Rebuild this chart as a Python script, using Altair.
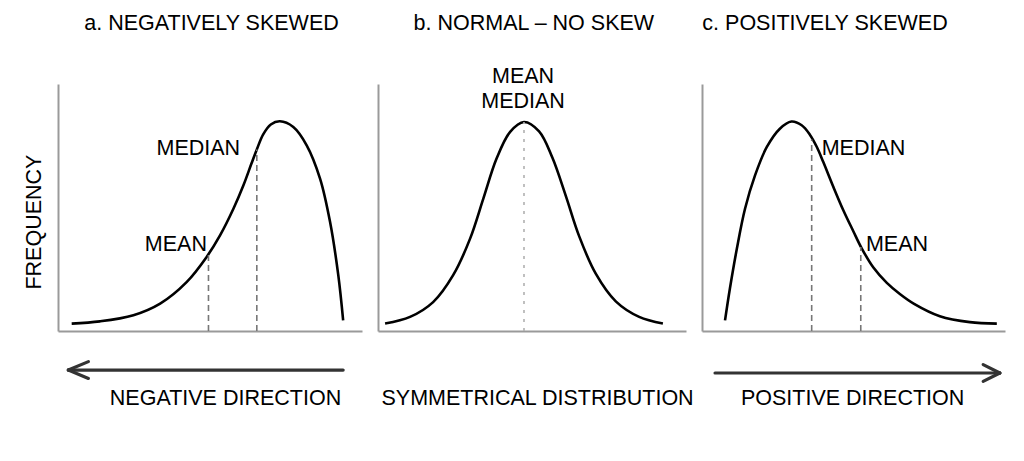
import altair as alt
import pandas as pd

FONT = "Liberation Sans"
FS = 21.5

# ---------- panel a: negatively skewed ----------
neg_x = [4.5, 13.8, 24.8, 33.6, 42.3, 48.9, 53.3, 57.7, 61.0, 63.7, 65.4, 67.5, 70.0, 73.0, 77.4, 81.8, 86.2, 89.5, 92.2, 93.8]
neg_y = [3.0, 3.9, 6.4, 11.1, 19.8, 30.0, 38.7, 49.5, 59.0, 68.0, 73.5, 79.6, 83.6, 84.9, 82.6, 75.2, 61.7, 44.1, 22.6, 4.3]
neg_marks = ["MEAN", "MEDIAN"]
neg_mark_x = [49.5, 65.4]
neg_mark_top = [30.8, 73.5]

# ---------- panel b: normal ----------
norm_x = [2.3, 10.4, 17.9, 24.4, 29.9, 34.2, 38.5, 42.9, 47.4, 52.3, 56.6, 61.0, 65.3, 70.7, 77.2, 84.8, 92.5]
norm_y = [3.0, 5.7, 11.7, 22.6, 37.4, 53.6, 69.8, 80.6, 84.6, 80.8, 70.2, 54.6, 38.4, 23.2, 12.0, 5.7, 3.0]
norm_mark_x = [47.4]
norm_mark_top = [84.6]

# ---------- panel c: positively skewed ----------
pos_x = [7.6, 9.2, 11.5, 14.2, 17.5, 21.4, 25.7, 29.5, 32.9, 35.6, 37.9, 40.0, 43.3, 46.6, 49.9, 52.7, 56.5, 61.0, 65.3, 70.0, 78.5, 88.4, 97.3]
pos_y = [4.3, 17.1, 33.3, 49.5, 63.0, 74.5, 81.9, 84.8, 83.3, 79.5, 74.5, 68.5, 58.5, 49.0, 40.5, 33.5, 25.8, 19.5, 15.0, 11.0, 6.0, 3.6, 3.0]
pos_marks = ["MEDIAN", "MEAN"]
pos_mark_x = [36.2, 52.4]
pos_mark_top = [77.5, 34.0]

titles = ["a. NEGATIVELY SKEWED", "b. NORMAL – NO SKEW", "c. POSITIVELY SKEWED"]
directions = ["NEGATIVE DIRECTION", "SYMMETRICAL DISTRIBUTION", "POSITIVE DIRECTION"]
y_title = "FREQUENCY"

XS = alt.Scale(domain=[0, 100], nice=False, zero=False)
YS = alt.Scale(domain=[0, 100], nice=False, zero=False)
AX = alt.Axis(domain=True, domainColor="#9a9a9a", domainWidth=2, ticks=False,
              labels=False, grid=False, title=None)


def X(f):
    return alt.X(f, type="quantitative", scale=XS, axis=AX)


def Y(f):
    return alt.Y(f, type="quantitative", scale=YS, axis=AX)


def text_layer(df, align="center", angle=0):
    kw = dict(font=FONT, fontSize=FS, color="black", align=align, baseline="middle")
    if angle:
        kw["angle"] = angle
    return alt.Chart(df).mark_text(**kw).encode(x=X("x"), y=Y("y"), text="t:N")


def panel(cx, cy, mx, mtop, dash, dcolor, labels, title, title_x, direction, dir_x,
          arrow, width, extra=None):
    curve = alt.Chart(pd.DataFrame({"x": cx, "y": cy})).mark_line(
        color="black", strokeWidth=2.6, interpolate="catmull-rom"
    ).encode(x=X("x"), y=Y("y"))
    rules = alt.Chart(pd.DataFrame({"x": mx, "y": [0] * len(mx), "y2": mtop})).mark_rule(
        color=dcolor, strokeWidth=1.6, strokeDash=dash
    ).encode(x=X("x"), y=Y("y"), y2="y2:Q")
    layers = [curve, rules]
    if labels is not None:
        layers.append(text_layer(labels[0], align=labels[1]))
    layers.append(text_layer(pd.DataFrame({"x": [title_x], "y": [124.1], "t": [title]})))
    layers.append(text_layer(pd.DataFrame({"x": [dir_x], "y": [-27.7], "t": [direction]})))
    if arrow is not None:
        layers.append(alt.Chart(arrow).mark_rule(color="#333333", strokeWidth=3.2, strokeCap="round")
                      .encode(x=X("x"), x2="x2:Q", y=Y("y"), y2="y2:Q"))
    if extra is not None:
        layers.extend(extra)
    return alt.layer(*layers).properties(width=width, height=247)


# annotations
neg_labels = pd.DataFrame({"x": [49.0, 59.9], "y": [34.8, 73.8], "t": neg_marks})
norm_labels = pd.DataFrame({"x": [47.1, 47.1], "y": [102.8, 92.7], "t": ["MEAN", "MEDIAN"]})
pos_labels = pd.DataFrame({"x": [39.5, 54.1], "y": [73.8, 35.0], "t": pos_marks})

neg_arrow = pd.DataFrame({"x": [3.4, 3.4, 3.4], "x2": [93.8, 10.0, 10.0],
                          "y": [-15.8, -15.8, -15.8], "y2": [-15.8, -12.4, -19.2]})
pos_arrow = pd.DataFrame({"x": [4.3, 98.3, 98.3], "x2": [98.3, 92.8, 92.8],
                          "y": [-17.0, -17.0, -17.0], "y2": [-17.0, -13.6, -20.4]})
freq = text_layer(pd.DataFrame({"x": [-7.6], "y": [44.1], "t": [y_title]}), angle=270)

pa = panel(neg_x, neg_y, neg_mark_x, neg_mark_top, [6, 4], "#777777", (neg_labels, "right"),
           titles[0], 50.5, directions[0], 55.1, neg_arrow, 304, [freq])
pb = panel(norm_x, norm_y, norm_mark_x, norm_mark_top, [3, 6], "#b0b0b0", (norm_labels, "center"),
           titles[1], 50.6, directions[1], 51.8, None, 308)
pc = panel(pos_x, pos_y, pos_mark_x, pos_mark_top, [6, 4], "#777777", (pos_labels, "left"),
           titles[2], 40.6, directions[2], 49.7, pos_arrow, 303)

chart = alt.hconcat(pa, pb, pc, spacing=16, bounds="flush").properties(
    padding={"left": 15, "top": 5, "right": 5, "bottom": 5},
    background="white",
).configure_view(stroke=None)

chart.save("out.html", embed_options={"renderer": "svg", "actions": False})
